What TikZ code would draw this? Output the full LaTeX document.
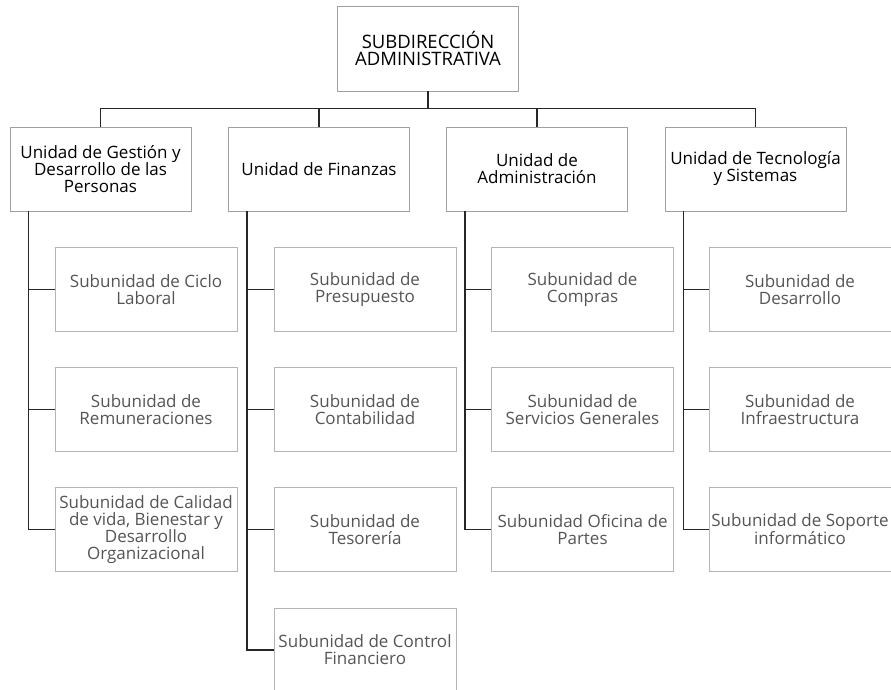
\documentclass[tikz,border=0pt]{standalone}
\usepackage{fontspec}
\setmainfont{Open Sans}
\usetikzlibrary{positioning}

\definecolor{linegray}{HTML}{262626}
\definecolor{unitframe}{HTML}{A0A0A0}
\definecolor{subframe}{HTML}{B4B4B4}
\definecolor{subtext}{HTML}{555555}

\tikzset{
    headbox/.style={draw=unitframe, line width=0.9pt, minimum width=181pt, minimum height=85pt,
        align=center, font=\fontsize{18.5}{17}\selectfont, inner sep=2pt},
    unitbox/.style={draw=unitframe, line width=0.9pt, minimum width=181pt, minimum height=84pt,
        align=center, font=\fontsize{17}{17}\selectfont, inner sep=2pt},
    subbox/.style={draw=subframe, line width=0.9pt, minimum width=182pt, minimum height=84pt,
        align=center, text=subtext, font=\fontsize{17}{17}\selectfont, inner sep=1pt},
    link/.style={draw=linegray, line width=1.5pt}
}

\begin{document}
\begin{tikzpicture}[x=1pt,y=-1pt]
    \useasboundingbox (0,0) rectangle (891,690);

    % top
    \node[headbox] (top) at (428,48.5) {SUBDIRECCIÓN\\ADMINISTRATIVA};
    \coordinate (bus) at (428,108.5);

    % units
    \node[unitbox] (u1) at (100.5,169) {Unidad de Gestión y\\Desarrollo de las\\Personas};
    \node[unitbox] (u2) at (319,169) {Unidad de Finanzas};
    \node[unitbox] (u3) at (537,169) {Unidad de\\Administración};
    \node[unitbox] (u4) at (755.5,169) {Unidad de Tecnología\\y Sistemas};

    \draw[link] (top.south) -- (bus);
    \draw[link] (u1.north |- bus) -- (u4.north |- bus);
    \foreach \u in {u1,u2,u3,u4}
        \draw[link] (\u.north |- bus) -- (\u.north);

    % subunits
    \foreach \x/\y/\n/\t in {
        146/289.5/s11/{Subunidad de Ciclo\\Laboral},
        146/409.5/s12/{Subunidad de\\Remuneraciones},
        146/529.5/s13/{Subunidad de Calidad\\de vida, Bienestar y\\Desarrollo\\Organizacional},
        365/289.5/s21/{Subunidad de\\Presupuesto},
        365/409.5/s22/{Subunidad de\\Contabilidad},
        365/529.5/s23/{Subunidad de\\Tesorería},
        365/650/s24/{Subunidad de Control\\Financiero},
        582.5/289.5/s31/{Subunidad de\\Compras},
        582.5/409.5/s32/{Subunidad de\\Servicios Generales},
        582.5/529.5/s33/{Subunidad Oficina de\\Partes},
        800/289.5/s41/{Subunidad de\\Desarrollo},
        800/409.5/s42/{Subunidad de\\Infraestructura},
        800/529.5/s43/{Subunidad de Soporte\\informático}}
        \node[subbox] (\n) at (\x,\y) {\t};

    % trunks
    \foreach \u/\last in {u1/s13,u2/s24,u3/s33,u4/s43}
        \draw[link] ([xshift=19pt]\u.south west) |- (\last.west);
    \foreach \s in {s11,s12,s21,s22,s23,s31,s32,s41,s42}
        \draw[link] (\s.west) -- ++(-26,0);
\end{tikzpicture}
\end{document}
